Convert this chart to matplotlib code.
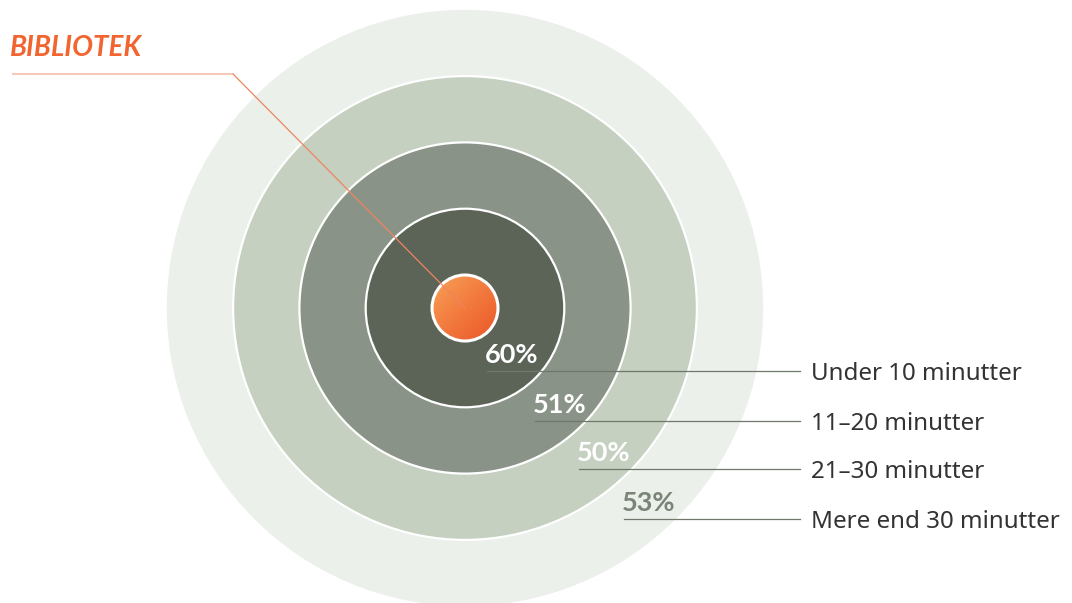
import numpy as np
import matplotlib.pyplot as plt
from matplotlib.patches import Circle
from matplotlib.colors import LinearSegmentedColormap

# data
categories = ["Under 10 minutter", "11–20 minutter", "21–30 minutter", "Mere end 30 minutter"]
values = [60, 51, 50, 53]
highlight = "BIBLIOTEK"

ring_colors = ["#5c6458", "#8a9387", "#c5d0c0", "#ebf0ea"]
pct_colors = ["white", "white", "white", "#7b8577"]

fig = plt.figure(figsize=(10.72, 6.03), dpi=100)
ax = fig.add_axes([0, 0, 1, 1])
ax.set_xlim(0, 1072)
ax.set_ylim(603, 0)
ax.set_aspect("equal")
ax.axis("off")

cx, cy = 465, 308
r0, step = 33, 66.3

# rings, drawn outer first
for i in range(len(categories) - 1, -1, -1):
    r = r0 + step * (i + 1)
    edge = "white" if i < len(categories) - 1 else "none"
    ax.add_patch(Circle((cx, cy), r, facecolor=ring_colors[i], edgecolor=edge, lw=1.6, zorder=1 + (3 - i)))

# orange centre with gradient
cmap = LinearSegmentedColormap.from_list("org", ["#f9a257", "#f27a3e", "#ea5527"])
gx, gy = np.meshgrid(np.linspace(0, 1, 200), np.linspace(0, 1, 200))
grad = (gx + gy) / 2
im = ax.imshow(grad, cmap=cmap, extent=(cx - r0, cx + r0, cy + r0, cy - r0), zorder=6)
clip = Circle((cx, cy), r0, transform=ax.transData)
im.set_clip_path(clip)
ax.add_patch(Circle((cx, cy), r0, facecolor="none", edgecolor="white", lw=2.2, zorder=7))

# leader line for the highlight
ax.plot([12, 233], [74, 74], color="#f7b9a2", lw=1.1, zorder=8, solid_capstyle="butt")
ax.plot([233, cx], [74, cy], color="#ee8560", lw=0.9, zorder=8)
ax.text(10, 48, highlight, color="#f26430", fontsize=20, fontweight="bold", fontstyle="italic",
        family="Lato", va="center", ha="left", zorder=9)

# labels
line_y = [371, 421, 469, 519]
line_x0 = [487, 535, 579, 624]
for i, (cat, v) in enumerate(zip(categories, values)):
    ax.plot([line_x0[i], 800], [line_y[i], line_y[i]], color="#6f786b", lw=0.9, zorder=8)
    ax.text(line_x0[i] - 2, line_y[i] - 8, f"{v}%", color=pct_colors[i], fontsize=19.5,
            fontweight="bold", family="Lato", ha="left", va="baseline", zorder=9)
    ax.text(811, line_y[i] + 3, cat, color="#333333", fontsize=17.4, family="Noto Sans",
            ha="left", va="center", zorder=9)

fig.savefig("out.png", dpi=100)
